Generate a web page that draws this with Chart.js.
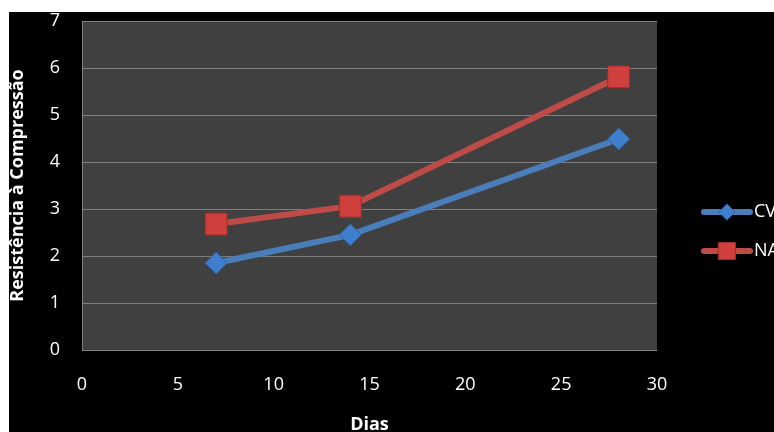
<!DOCTYPE html>
<html>
<head>
<meta charset="utf-8">
<script src="https://cdn.jsdelivr.net/npm/chart.js@4"></script>
<style>
html, body { margin: 0; padding: 0; background: #fff; overflow: hidden; }
canvas { position: absolute; left: 0; top: 0; }
</style>
</head>
<body>
<canvas id="chart" width="774" height="450"></canvas>
<script>
const days = [7, 14, 28];
const cvValues = [1.85, 2.45, 4.49];
const naValues = [2.68, 3.06, 5.81];
const seriesNames = ['CV', 'NA'];
const xTitle = 'Dias';
const yTitle = 'Resistência à Compressão';

const tickFont = { family: 'Open Sans', size: 18 };
const titleFont = { family: 'Open Sans', size: 18, weight: 'bold' };

// black frame + dark plot area
const backdrop = {
    id: 'backdrop',
    beforeDraw(chart) {
        const ctx = chart.ctx;
        const a = chart.chartArea;
        ctx.save();
        ctx.fillStyle = '#fff';
        ctx.fillRect(0, 0, chart.width, chart.height);
        ctx.fillStyle = '#000';
        ctx.fillRect(9, 12, chart.width - 9, chart.height - 12);
        ctx.fillStyle = '#404040';
        ctx.fillRect(a.left, a.top, a.right - a.left, a.bottom - a.top);
        ctx.restore();
    }
};

// legend on the right, cut off by the edge like the original
const sideLegend = {
    id: 'sideLegend',
    afterDraw(chart) {
        const ctx = chart.ctx;
        const rows = [212, 251];
        chart.data.datasets.forEach((ds, i) => {
            const y = rows[i];
            ctx.save();
            ctx.strokeStyle = ds.borderColor;
            ctx.lineWidth = 6;
            ctx.lineCap = 'round';
            ctx.beginPath();
            ctx.moveTo(704, y);
            ctx.lineTo(750, y);
            ctx.stroke();
            ctx.fillStyle = ds.pointBackgroundColor;
            ctx.strokeStyle = ds.pointBorderColor;
            ctx.lineWidth = 1;
            Chart.helpers.drawPoint(ctx, {
                pointStyle: ds.pointStyle,
                radius: i === 0 ? 8 : 12,
                borderWidth: 1,
                rotation: 0
            }, 727, y);
            ctx.fillStyle = '#fff';
            ctx.font = '18px "Open Sans"';
            ctx.textBaseline = 'middle';
            ctx.fillText(ds.label, 754, y);
            ctx.restore();
        });
    }
};

new Chart(document.getElementById('chart'), {
    type: 'line',
    data: {
        datasets: [{
            label: seriesNames[0],
            data: days.map((d, i) => ({ x: d, y: cvValues[i] })),
            borderColor: '#4a7ebb',
            borderWidth: 6,
            pointStyle: 'rectRot',
            pointRadius: 11,
            pointBackgroundColor: '#3f7fce',
            pointBorderColor: '#2c62a6',
            pointBorderWidth: 1
        }, {
            label: seriesNames[1],
            data: days.map((d, i) => ({ x: d, y: naValues[i] })),
            borderColor: '#be4b48',
            borderWidth: 6,
            pointStyle: 'rect',
            pointRadius: 15.5,
            pointBackgroundColor: '#cf3f3c',
            pointBorderColor: '#9e2c2a',
            pointBorderWidth: 1
        }]
    },
    options: {
        responsive: false,
        animation: false,
        layout: { padding: { top: 21, right: 117, left: 0, bottom: 0 } },
        plugins: {
            legend: { display: false },
            tooltip: { enabled: false }
        },
        scales: {
            x: {
                type: 'linear',
                min: 0,
                max: 30,
                afterFit: s => { s.height = 100; },
                ticks: { stepSize: 5, color: '#fff', font: tickFont, padding: 24, maxRotation: 0 },
                grid: { display: false, drawTicks: false },
                border: { display: false },
                title: { display: true, text: xTitle, color: '#fff', font: titleFont, padding: { top: 0, bottom: 14 } }
            },
            y: {
                min: 0,
                max: 7,
                afterFit: s => { s.width = 82; s.paddingTop = 0; s.paddingBottom = 0; },
                ticks: { stepSize: 1, color: '#fff', font: tickFont, padding: 22 },
                grid: { color: '#7f7f7f', lineWidth: 1, drawTicks: false },
                border: { display: true, color: '#7f7f7f', width: 1 },
                title: { display: true, text: yTitle, color: '#fff', font: titleFont, padding: { top: 7, bottom: 0 } }
            }
        }
    },
    plugins: [backdrop, sideLegend]
});
</script>
</body>
</html>
